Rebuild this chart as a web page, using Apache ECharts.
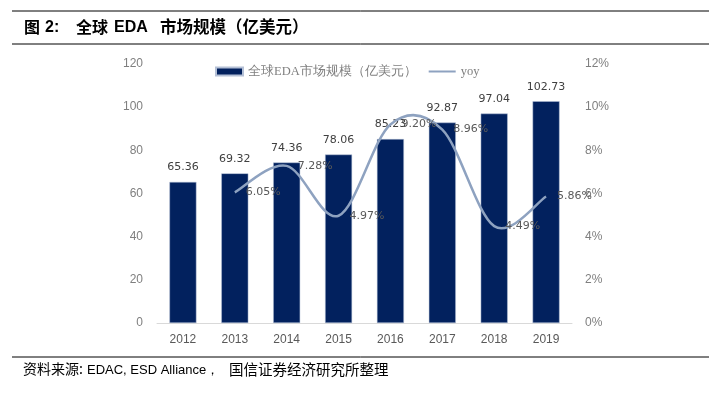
<!DOCTYPE html>
<html><head><meta charset="utf-8">
<script src="https://cdn.jsdelivr.net/npm/echarts@6/dist/echarts.min.js"></script>
<style>html,body{margin:0;padding:0;background:#fff}#c{width:721px;height:394px}</style>
</head><body><div id="c"></div>
<script>
const categories = ['2012','2013','2014','2015','2016','2017','2018','2019'];
const marketSize = [65.36, 69.32, 74.36, 78.06, 85.23, 92.87, 97.04, 102.73];
const yoy = [null, 6.05, 7.28, 4.97, 9.20, 8.96, 4.49, 5.86];
const leftTicks = [0, 20, 40, 60, 80, 100, 120];
const rightTicks = [0, 2, 4, 6, 8, 10, 12];

const yoyPairs = yoy.map((v,i)=>[i,v]).filter(p=>p[1]!=null);

const chart = echarts.init(document.getElementById('c'), null, {renderer:'canvas'});
const cjk = '"Noto Sans CJK SC", "Liberation Sans", Arial, sans-serif';
const lat = '"Liberation Sans", Arial, sans-serif';
const lineColor = '#8EA2C0';

function curveItem(params, api){
  if (params.dataIndex !== 0) return null;
  const pts = yoyPairs.map(p=>api.coord(p));
  const n = pts.length;
  let d = 'M' + pts[0][0] + ',' + pts[0][1];
  for (let i=0;i<n-1;i++){
    const p0 = pts[Math.max(i-1,0)], p1 = pts[i], p2 = pts[i+1], p3 = pts[Math.min(i+2,n-1)];
    const c1 = [p1[0]+(p2[0]-p0[0])/6, p1[1]+(p2[1]-p0[1])/6];
    const c2 = [p2[0]-(p3[0]-p1[0])/6, p2[1]-(p3[1]-p1[1])/6];
    d += 'C'+c1[0]+','+c1[1]+' '+c2[0]+','+c2[1]+' '+p2[0]+','+p2[1];
  }
  return {type:'path', shape:{pathData:d}, style:{fill:'none', stroke:lineColor, lineWidth:2.5}};
}

function txt(x, y, text, font){
  return {type:'text', x:x, y:y, style:{text:text, font:font, fill:'#000', verticalAlign:'middle', align:'left'}};
}

chart.setOption({
  animation:false,
  graphic:[
    {type:'line', shape:{x1:12,y1:11,x2:709,y2:11}, style:{stroke:'#000',lineWidth:1}},
    {type:'line', shape:{x1:12,y1:44,x2:709,y2:44}, style:{stroke:'#000',lineWidth:1}},
    txt(24, 26.5, '图', 'bold 16px '+cjk),
    txt(45, 28, '2:', 'bold 16px '+lat),
    txt(76, 26.5, '全球', 'bold 16px '+cjk),
    txt(114, 28, 'EDA', 'bold 16px '+lat),
    txt(160, 26.5, '市场规模（亿美元）', 'bold 16.5px '+cjk),
    {type:'line', shape:{x1:12,y1:357,x2:709,y2:357}, style:{stroke:'#000',lineWidth:1}},
    txt(23, 369, '资料来源:', '14px '+cjk),
    txt(87, 370, 'EDAC, ESD Alliance，', '13px '+lat),
    txt(229, 369, '国信证券经济研究所整理', '14.5px '+cjk)
  ],
  legend:{
    top:65, left:215, padding:0, itemWidth:27, itemHeight:8, itemGap:12,
    textStyle:{color:'#7f7f7f', fontSize:12.5, fontFamily:'"Liberation Serif", serif'},
    data:[
      {name:'全球EDA市场规模（亿美元）', icon:'rect', itemStyle:{color:'#02215E'}},
      {name:'yoy', icon:'path://M0,3.5L27,3.5L27,5.5L0,5.5Z', itemStyle:{color:lineColor, opacity:1}}
    ]
  },
  grid:{left:157, right:149, top:64, bottom:71},
  xAxis:{
    type:'category', data:categories,
    axisLine:{lineStyle:{color:'#d9d9d9'}}, axisTick:{show:false},
    axisLabel:{color:'#595959', fontSize:12, margin:11, fontFamily:lat}
  },
  yAxis:[
    {type:'value', min:0, max:120, interval:20, splitLine:{show:false},
     axisLabel:{color:'#7f7f7f', fontSize:12, margin:14, fontFamily:lat}},
    {type:'value', min:0, max:12, interval:2, splitLine:{show:false},
     axisLabel:{color:'#7f7f7f', fontSize:12, margin:13, fontFamily:lat, formatter:v=>v+'%'}}
  ],
  series:[
    {name:'全球EDA市场规模（亿美元）', type:'bar', data:marketSize, barWidth:27,
     itemStyle:{color:'#02215E', borderColor:'#b4c0d6', borderWidth:0.5},
     label:{show:true, position:'top', color:'#404040', fontSize:11, distance:9, fontFamily:'"DejaVu Sans", sans-serif'}},
    {name:'yoyCurve', type:'custom', yAxisIndex:1, data:yoyPairs, renderItem:curveItem, silent:true, z:3},
    {name:'yoy', type:'line', yAxisIndex:1, data:yoy, symbol:'circle', symbolSize:2, showSymbol:true,
     lineStyle:{opacity:0}, itemStyle:{color:'rgba(0,0,0,0)', borderWidth:0}, z:4,
     label:{show:true, position:'right', color:'#595959', fontSize:11, distance:10, fontFamily:'"DejaVu Sans", sans-serif',
            formatter:p=>p.value.toFixed(2)+'%'}}
  ]
});
</script></body></html>
